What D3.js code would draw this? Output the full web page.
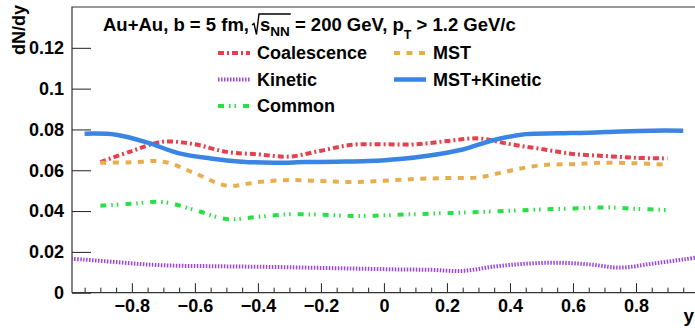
<!DOCTYPE html>
<html>
<head>
<meta charset="utf-8">
<script src="https://cdn.jsdelivr.net/npm/d3@7"></script>
<style>
  html, body { margin: 0; padding: 0; background: #fff; }
  svg { display: block; font-family: "Liberation Sans", Arial, Helvetica, sans-serif; font-weight: bold; }
</style>
</head>
<body>
<svg id="chart" width="695" height="328"></svg>
<script>
// ---------------- data ----------------
const yBlue = [-0.95,-0.85,-0.75,-0.65,-0.55,-0.45,-0.35,-0.25,-0.15,-0.05,0.05,0.15,0.25,0.35,0.45,0.55,0.65,0.75,0.85,0.95];
const mstKinetic = [0.0779,0.0774,0.0735,0.0683,0.0658,0.0642,0.0637,0.0640,0.0642,0.0645,0.0655,0.0674,0.0702,0.0748,0.0777,0.0781,0.0784,0.0790,0.0794,0.0794];

const yMain = [-0.9,-0.8,-0.7,-0.6,-0.5,-0.4,-0.3,-0.2,-0.1,0.0,0.1,0.2,0.3,0.4,0.5,0.6,0.7,0.8,0.9];
const coalescence = [0.0640,0.0694,0.0740,0.0727,0.0690,0.0678,0.0667,0.0696,0.0725,0.0727,0.0727,0.0743,0.0756,0.0728,0.0704,0.0680,0.0670,0.0661,0.0658];
const mst = [0.0637,0.0639,0.0642,0.0585,0.0525,0.0542,0.0552,0.0547,0.0542,0.0549,0.0557,0.0562,0.0565,0.0598,0.0625,0.0630,0.0637,0.0634,0.0627];
const common = [0.0426,0.0436,0.0444,0.0405,0.0361,0.0372,0.0384,0.0382,0.0376,0.0379,0.0385,0.0390,0.0395,0.0402,0.0408,0.0413,0.0418,0.0411,0.0405];

const yKin = [-1.05,-0.95,-0.85,-0.75,-0.65,-0.55,-0.45,-0.35,-0.25,-0.15,-0.05,0.05,0.15,0.25,0.35,0.45,0.55,0.65,0.75,0.85,0.95,1.05];
const kinetic = [0.0172,0.0162,0.0150,0.0138,0.0132,0.0130,0.0128,0.0126,0.0123,0.0120,0.0117,0.0114,0.0112,0.0107,0.0128,0.0142,0.0147,0.0139,0.0123,0.0142,0.0163,0.0185];

const xTicks = [-0.8,-0.6,-0.4,-0.2,0,0.2,0.4,0.6,0.8];
const xTickLabels = ["\u22120.8","\u22120.6","\u22120.4","\u22120.2","0","0.2","0.4","0.6","0.8"];
const yTicks = [0,0.02,0.04,0.06,0.08,0.1,0.12];
const yTickLabels = ["0","0.02","0.04","0.06","0.08","0.1","0.12"];

const legendNames = ["Coalescence","MST","Kinetic","MST+Kinetic","Common"];

// ---------------- styles ----------------
const styles = {
  "Coalescence": {color:"#e4414f", dash:"6,3,2,3", width:4},
  "MST":         {color:"#e8ae4e", dash:"6,6.5", width:4},
  "Kinetic":     {color:"#9b45e6", dash:"1.5,1.5", width:4},
  "MST+Kinetic": {color:"#3a85e3", dash:null, width:4.5},
  "Common":      {color:"#27e045", dash:"6,5,1.5,4,1.5,7", width:4}
};

const series = [
  {name:"Coalescence", xs:yMain, ys:coalescence},
  {name:"MST", xs:yMain, ys:mst},
  {name:"Common", xs:yMain, ys:common},
  {name:"Kinetic", xs:yKin, ys:kinetic},
  {name:"MST+Kinetic", xs:yBlue, ys:mstKinetic}
];

// ---------------- layout ----------------
const L = 72, R = 699, T = 7, B = 292.7;
const svg = d3.select("#chart");
const x = d3.scaleLinear().domain([-0.99, 1.0]).range([L, R]);
const y = d3.scaleLinear().domain([0, 0.14]).range([B, T]);

svg.append("defs").append("clipPath").attr("id","frameclip")
  .append("rect").attr("x",L).attr("y",T).attr("width",R-L).attr("height",B-T);

// lines
const line = d3.line().x(d=>x(d[0])).y(d=>y(d[1])).curve(d3.curveCatmullRom.alpha(0.5));
const g = svg.append("g").attr("clip-path","url(#frameclip)");
series.forEach(s => {
  const st = styles[s.name];
  g.append("path")
    .datum(s.xs.map((v,i)=>[v, s.ys[i]]))
    .attr("d", line)
    .attr("fill","none")
    .attr("stroke", st.color)
    .attr("stroke-width", st.width)
    .attr("stroke-dasharray", st.dash)
    .attr("stroke-linejoin","round");
});

// axes
const yAxis = d3.axisLeft(y).tickValues(yTicks).tickSize(-19).tickPadding(8)
  .tickFormat((d,i)=>yTickLabels[i]);
const ya = svg.append("g").attr("transform",`translate(${L},0)`).call(yAxis);
ya.select(".domain").remove();
ya.selectAll("line").attr("stroke","#222").attr("stroke-width",1);
ya.selectAll("text").attr("fill","#000").style("font-size","18px").style("font-weight","bold")
  .style("font-family","'Liberation Sans', Arial, sans-serif");

const xAxis = d3.axisBottom(x).tickValues(xTicks).tickSize(-9.5).tickPadding(7)
  .tickFormat((d,i)=>xTickLabels[i]);
const xa = svg.append("g").attr("transform",`translate(0,${B})`).call(xAxis);
xa.select(".domain").remove();
xa.selectAll("line").attr("stroke","#222").attr("stroke-width",1);
xa.selectAll("text").attr("fill","#000").style("font-size","18px").style("font-weight","bold")
  .style("font-family","'Liberation Sans', Arial, sans-serif");

const minorVals = d3.range(-19,20).map(k=>k*0.05).filter(v=>Math.abs(Math.round(v*10)/10 - v) > 1e-6 || Math.round(v*10)%2 !== 0);
const xMinor = d3.axisBottom(x).tickValues(minorVals).tickSize(-5).tickFormat("");
const xm = svg.append("g").attr("transform",`translate(0,${B})`).call(xMinor);
xm.select(".domain").remove();
xm.selectAll("line").attr("stroke","#222").attr("stroke-width",1);

// frame
svg.append("path")
  .attr("d",`M${L},${B} L${L},${T} L${R},${T} M${L},${B} L${R},${B}`)
  .attr("fill","none").attr("stroke","#333").attr("stroke-width",1.2);

// axis titles
svg.append("text").attr("transform","translate(25,5) rotate(-90)")
  .attr("text-anchor","end").style("font-size","18px").text("dN/dy");
svg.append("text").attr("x",694).attr("y",322).attr("text-anchor","end")
  .style("font-size","19px").text("y");

// title with sqrt(s_NN) and p_T
const baseY = 31;
let cx = 103;
function piece(str, size, dy) {
  const t = svg.append("text").attr("x",cx).attr("y",baseY+dy).style("font-size",size+"px")
    .attr("xml:space","preserve").style("white-space","pre").text(str);
  cx += t.node().getComputedTextLength();
  return t;
}
piece("Au+Au, b = 5 fm,", 18.5, 0);
cx += 3;
const rx = cx;
cx += 8;
piece("s", 18.5, 0);
piece("NN", 13.5, 5);
const rEnd = cx + 1;
svg.append("path")
  .attr("d",`M${rx},${baseY-6} L${rx+2},${baseY-7.5} L${rx+4.5},${baseY+3.5} L${rx+7},${baseY-17} L${rEnd},${baseY-17}`)
  .attr("fill","none").attr("stroke","#000").attr("stroke-width",1.4);
piece(" = 200 GeV, p", 18.5, 0);
piece("T", 12.5, 8);
piece(" > 1.2 GeV/c", 18.5, 0);

// legend
const legendPos = [
  {name:"Coalescence", sx:218, tx:257, yy:53},
  {name:"MST",         sx:394, tx:433, yy:53},
  {name:"Kinetic",     sx:218, tx:257, yy:79.5},
  {name:"MST+Kinetic", sx:394, tx:433, yy:79.5},
  {name:"Common",      sx:218, tx:257, yy:106}
];
legendNames.forEach(n => {
  const p = legendPos.find(q=>q.name===n);
  const st = styles[n];
  svg.append("line").attr("x1",p.sx).attr("x2",p.sx+32).attr("y1",p.yy).attr("y2",p.yy)
    .attr("stroke",st.color).attr("stroke-width",st.width).attr("stroke-dasharray",st.dash);
  svg.append("text").attr("x",p.tx).attr("y",p.yy+6).style("font-size","18px").text(n);
});
</script>
</body>
</html>
